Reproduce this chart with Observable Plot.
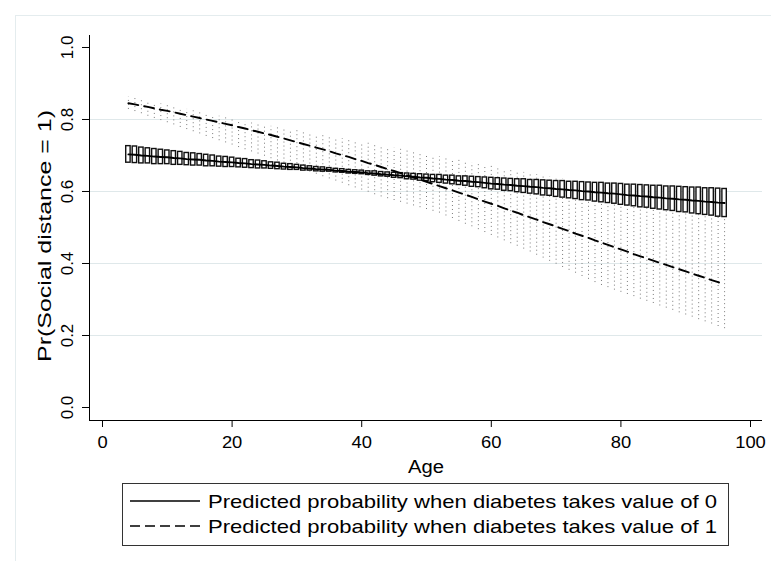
<!DOCTYPE html>
<html><head><meta charset="utf-8">
<script src="https://cdn.jsdelivr.net/npm/d3@7"></script>
<script src="https://cdn.jsdelivr.net/npm/@observablehq/plot@0.6"></script>
<style>
body{margin:0;background:#fff;}
#wrap{position:relative;width:771px;height:561px;overflow:hidden;font-family:"Liberation Sans",Arial,sans-serif;background:#fff;}
#chart{position:absolute;left:0;top:0;}
#frame{position:absolute;left:15px;top:15px;width:800px;height:600px;border-left:1px solid #e4ecee;border-top:1px solid #e4ecee;}
#legend{position:absolute;left:122px;top:483px;}
</style></head><body>
<div id="wrap"><div id="frame"></div><div id="chart"></div><svg id="legend" width="608" height="64"></svg></div>
<script>
// ---- data ----
const ages = [4,5,6,7,8,9,10,11,12,13,14,15,16,17,18,19,20,21,22,23,24,25,26,27,28,29,30,31,32,33,34,35,36,37,38,39,40,41,42,43,44,45,46,47,48,49,50,51,52,53,54,55,56,57,58,59,60,61,62,63,64,65,66,67,68,69,70,71,72,73,74,75,76,77,78,79,80,81,82,83,84,85,86,87,88,89,90,91,92,93,94,95,96];
// diabetes = 0: predicted probability and CI bounds
const pred0 = [.703,.702,.700,.699,.697,.696,.695,.693,.692,.690,
.689,.688,.686,.685,.683,.682,.681,.679,.678,.676,
.675,.674,.672,.671,.669,.668,.667,.665,.664,.662,
.661,.660,.658,.657,.655,.654,.653,.651,.650,.648,
.647,.645,.644,.642,.641,.639,.638,.636,.635,.633,
.632,.630,.629,.627,.626,.624,.622,.621,.619,.618,
.616,.615,.613,.612,.610,.609,.607,.606,.604,.603,
.601,.600,.598,.597,.595,.594,.592,.590,.589,.587,
.586,.584,.583,.581,.580,.578,.577,.575,.574,.572,
.571,.569,.568];
const lo0 = [.680,.679,.678,.678,.676,.676,.676,.674,.674,.673,
.672,.672,.670,.670,.669,.668,.668,.667,.666,.665,
.664,.664,.663,.662,.661,.660,.660,.658,.658,.656,
.655,.655,.653,.652,.650,.649,.648,.646,.644,.642,
.641,.638,.637,.634,.633,.630,.629,.626,.624,.622,
.620,.618,.616,.613,.612,.609,.606,.605,.602,.601,
.598,.596,.594,.592,.589,.588,.585,.583,.581,.579,
.576,.575,.572,.570,.568,.566,.563,.561,.559,.556,
.555,.552,.550,.548,.546,.543,.542,.539,.537,.535,
.533,.530,.529];
const hi0 = [.726,.725,.722,.720,.718,.716,.714,.712,.710,.707,
.706,.704,.702,.700,.697,.696,.694,.691,.690,.687,
.686,.684,.681,.680,.677,.676,.674,.672,.670,.668,
.667,.665,.663,.662,.660,.659,.658,.656,.656,.654,
.653,.652,.651,.650,.649,.648,.647,.646,.646,.644,
.644,.642,.642,.641,.640,.639,.638,.637,.636,.635,
.634,.634,.632,.632,.631,.630,.629,.629,.627,.627,
.626,.625,.624,.624,.622,.622,.621,.619,.619,.618,
.617,.616,.616,.614,.614,.613,.612,.611,.611,.609,
.609,.608,.607];
// diabetes = 1: predicted probability and CI bounds
const pred1 = [.845,.842,.838,.835,.831,.827,.824,.820,.816,.812,
.808,.804,.800,.796,.792,.788,.784,.779,.775,.770,
.766,.761,.757,.752,.747,.742,.737,.732,.727,.722,
.717,.712,.706,.701,.696,.690,.685,.679,.674,.668,
.662,.657,.651,.645,.639,.633,.627,.621,.615,.609,
.603,.597,.591,.585,.578,.572,.566,.560,.553,.547,
.541,.534,.528,.522,.515,.509,.503,.496,.490,.483,
.477,.471,.464,.458,.452,.445,.439,.433,.426,.420,
.414,.408,.402,.396,.390,.384,.378,.372,.366,.360,
.354,.348,.342];
const lo1 = [.828,.822,.816,.809,.803,.797,.791,.785,.778,.772,
.766,.760,.753,.747,.741,.735,.729,.722,.716,.710,
.704,.698,.691,.685,.679,.673,.666,.660,.654,.648,
.641,.635,.629,.623,.616,.610,.604,.598,.591,.585,
.580,.575,.570,.565,.560,.555,.550,.545,.540,.532,
.525,.517,.509,.502,.494,.486,.478,.471,.463,.455,
.448,.440,.432,.423,.415,.406,.398,.389,.381,.373,
.364,.356,.347,.339,.333,.326,.320,.314,.308,.301,
.295,.289,.282,.276,.270,.263,.257,.251,.244,.238,
.232,.225,.219];
const hi1 = [.862,.858,.854,.851,.847,.843,.839,.835,.832,.828,
.824,.820,.817,.813,.809,.805,.801,.798,.794,.790,
.787,.784,.781,.778,.775,.772,.769,.765,.762,.759,
.756,.753,.750,.747,.744,.741,.737,.734,.730,.727,
.724,.720,.717,.714,.710,.707,.704,.700,.697,.694,
.690,.687,.683,.680,.677,.673,.670,.667,.663,.660,
.657,.653,.650,.647,.644,.640,.637,.634,.631,.627,
.624,.621,.618,.615,.611,.608,.605,.602,.598,.595,
.592,.589,.585,.582,.579,.576,.572,.569,.566,.563,
.559,.556,.553];
const xTicks = [0, 20, 40, 60, 80, 100];
const yTicks = [0, 0.2, 0.4, 0.6, 0.8, 1.0];
const yGrid = [0.2, 0.4, 0.6, 0.8];
const xTitle = "Age";
const yTitle = "Pr(Social distance = 1)";
const legendLabels = ["Predicted probability when diabetes takes value of 0",
                      "Predicted probability when diabetes takes value of 1"];

// ---- build table ----
const rows = ages.map((a, i) => ({age: a, p0: pred0[i], lo0: lo0[i], hi0: hi0[i], p1: pred1[i], lo1: lo1[i], hi1: hi1[i]}));
const FONT = "Liberation Sans, Arial, Helvetica, sans-serif";
const xDom = [-2.006, 101.85];
const yDom = [-0.0361, 1.0333];

const chart = Plot.plot({
  width: 771, height: 561,
  marginLeft: 89, marginRight: 9, marginTop: 35, marginBottom: 141,
  style: {background: "transparent", fontFamily: FONT, fontSize: "17px", color: "#000"},
  x: {domain: xDom},
  y: {domain: yDom},
  marks: [
    Plot.gridY(yGrid, {stroke: "#dfe8ea", strokeOpacity: 1, strokeWidth: 1}),
    Plot.ruleX(rows, {x: "age", y1: "lo1", y2: "hi1", stroke: "#7a7a7a", strokeWidth: 1, strokeDasharray: "1,3"}),
    Plot.rect(rows, {x1: d => d.age - 0.34, x2: d => d.age + 0.34, y1: "lo0", y2: "hi0", fill: "white", stroke: "#111", strokeWidth: 1.4, inset: 0}),
    Plot.line(rows, {x: "age", y: "p0", stroke: "#000", strokeWidth: 1.9}),
    Plot.line(rows, {x: "age", y: "p1", stroke: "#000", strokeWidth: 1.9, strokeDasharray: "10,6"}),
    Plot.ruleY([yDom[0]], {stroke: "#000", strokeWidth: 1}),
    Plot.ruleX([xDom[0]], {y1: yDom[0], y2: yDom[1], stroke: "#000", strokeWidth: 1}),
    Plot.axisX(xTicks, {tickSize: 7, tickPadding: 8, fontSize: 17, label: null, tickFormat: d => String(d)}),
    Plot.axisY(yTicks, {tickSize: 7, label: null, tickFormat: () => ""}),
    Plot.text(yTicks, {y: d => d, text: d => d.toFixed(1), frameAnchor: "left", dx: -17, rotate: -90, textAnchor: "middle", lineAnchor: "bottom", fontSize: 17}),
    Plot.text([yTitle], {frameAnchor: "left", dx: -39, dy: 8, rotate: -90, textAnchor: "middle", lineAnchor: "bottom", fontSize: 18.5}),
    Plot.text([xTitle], {frameAnchor: "bottom", dy: 52, lineAnchor: "bottom", textAnchor: "middle", fontSize: 18})
  ]
});
document.getElementById("chart").appendChild(chart);

// widen texts to match the reference's proportions
function stretch(el, target) {
  el.setAttribute("textLength", target);
  el.setAttribute("lengthAdjust", "spacingAndGlyphs");
}
const xTickStr = xTicks.map(String);
chart.querySelectorAll("text").forEach(t => {
  const s = t.textContent;
  if (s === yTitle) stretch(t, 252);
  else if (s === xTitle) stretch(t, 36);
  else if (xTickStr.includes(s)) stretch(t, t.getComputedTextLength() * 1.08);
});

// ---- legend ----
const lg = d3.select("#legend");
lg.append("rect").attr("x", 0.5).attr("y", 0.5).attr("width", 606).attr("height", 62).attr("fill", "white").attr("stroke", "#333").attr("stroke-width", 1);
const rowY = [18, 43];
legendLabels.forEach((t, i) => {
  lg.append("line").attr("x1", 8).attr("x2", 78).attr("y1", rowY[i]).attr("y2", rowY[i])
    .attr("stroke", "#000").attr("stroke-width", 1.6).attr("stroke-dasharray", i ? "10,5" : null);
  lg.append("text").attr("x", 86).attr("y", rowY[i] + 7).attr("font-family", FONT).attr("font-size", 19)
    .attr("fill", "#000").attr("textLength", 509).attr("lengthAdjust", "spacingAndGlyphs").text(t);
});
</script>
</body></html>
